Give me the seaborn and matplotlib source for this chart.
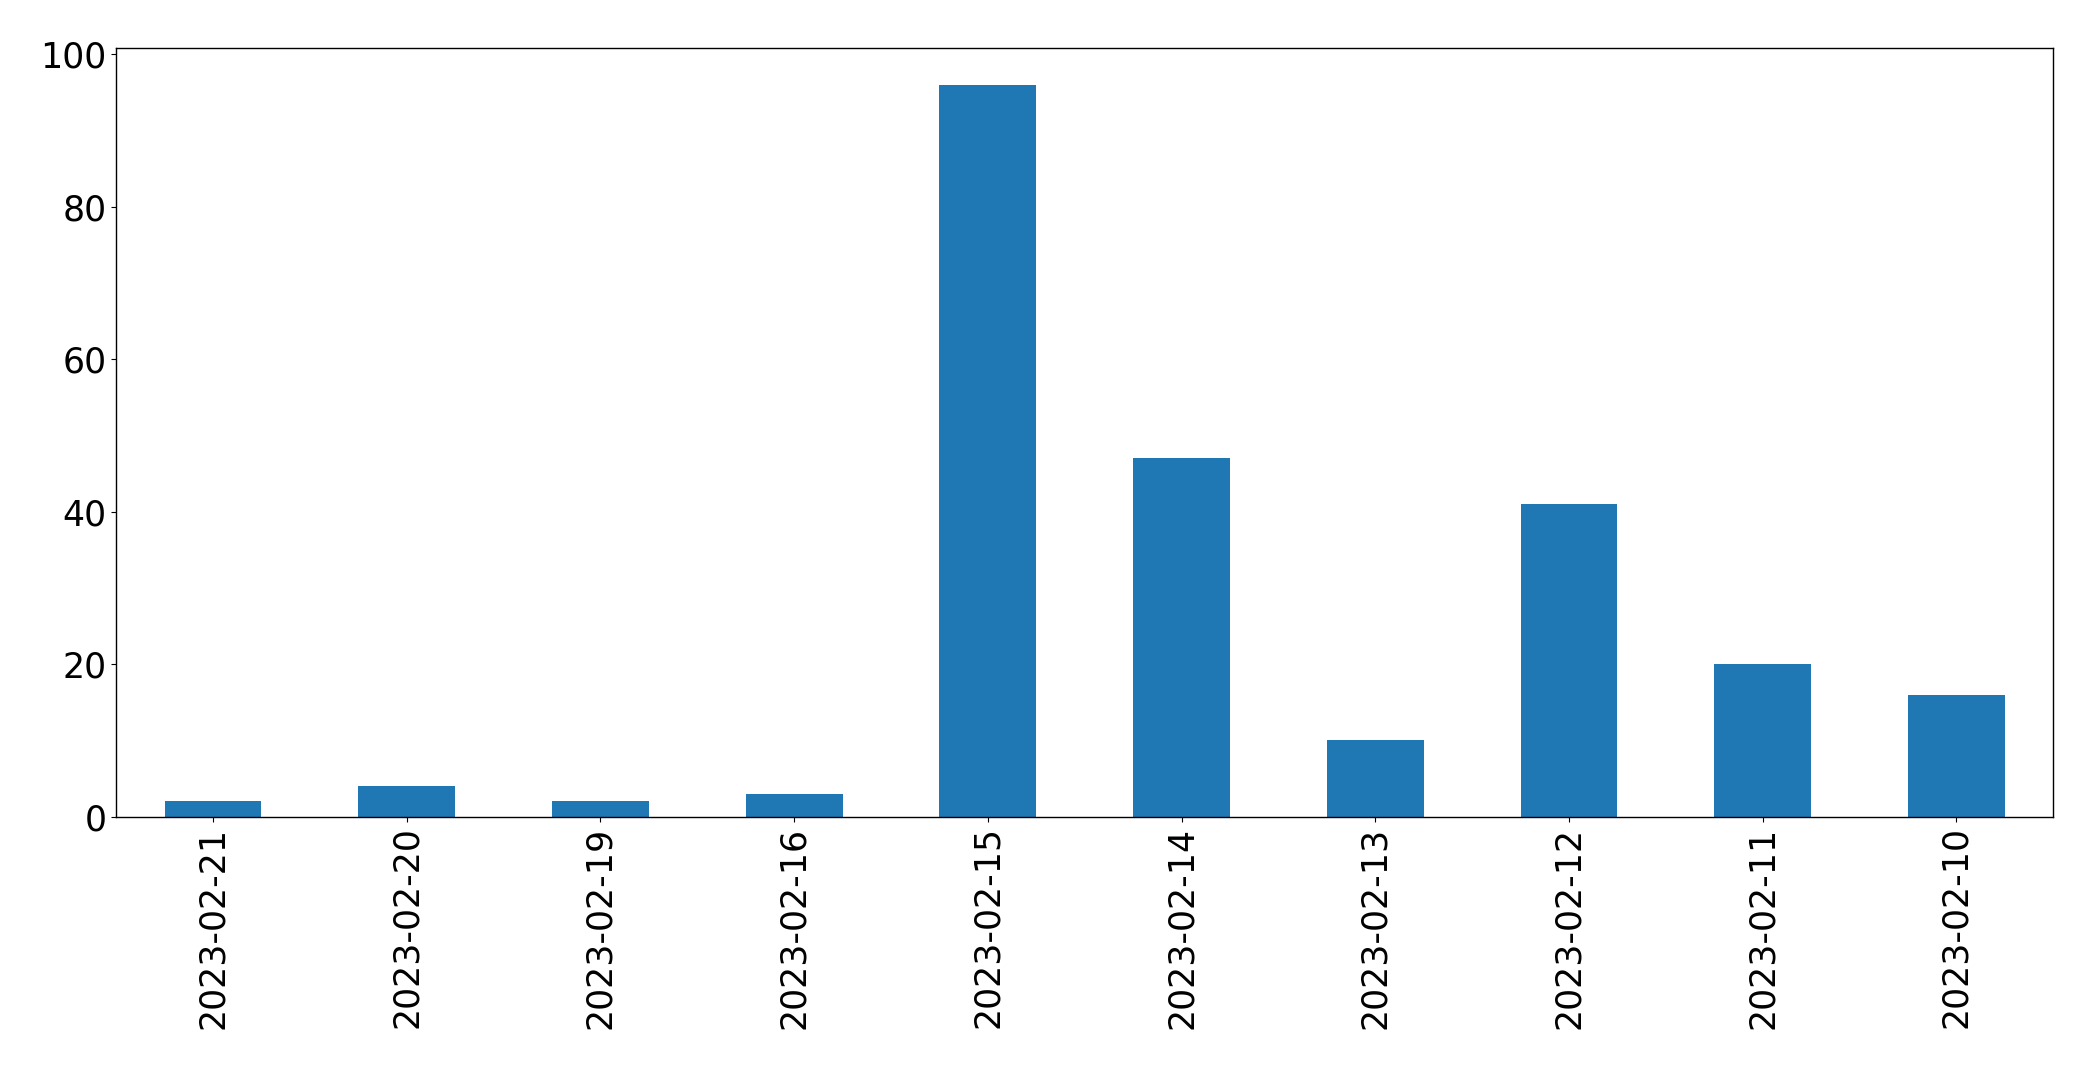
import pandas as pd
import seaborn as sns
import matplotlib
matplotlib.use('Agg')
import matplotlib.pyplot as plt

fechas = ['2023-02-21', '2023-02-20', '2023-02-19', '2023-02-16', '2023-02-15',
          '2023-02-14', '2023-02-13', '2023-02-12', '2023-02-11', '2023-02-10']
conteo = [2, 4, 2, 3, 96, 47, 10, 41, 20, 16]

df = pd.DataFrame({'fecha': fechas, 'conteo': conteo})

fig, ax = plt.subplots(figsize=(20.93, 10.69), dpi=100)
fig.subplots_adjust(left=0.0555, right=0.981, top=0.955, bottom=0.236)

sns.barplot(x='fecha', y='conteo', data=df, ax=ax, color='#1f77b4',
            saturation=1, width=0.5, order=fechas, linewidth=0)
ax.set_xlim(-0.5, len(fechas) - 0.5)
ax.set_ylim(0, max(conteo) * 1.05)
ax.set_xlabel('')
ax.set_ylabel('')
for s in ax.spines.values():
    s.set_color('black')
    s.set_linewidth(1)
ax.tick_params(axis='x', labelrotation=90)
ax.tick_params(labelsize=25, color='black', labelcolor='black')

fig.savefig('out.png', dpi=100)
